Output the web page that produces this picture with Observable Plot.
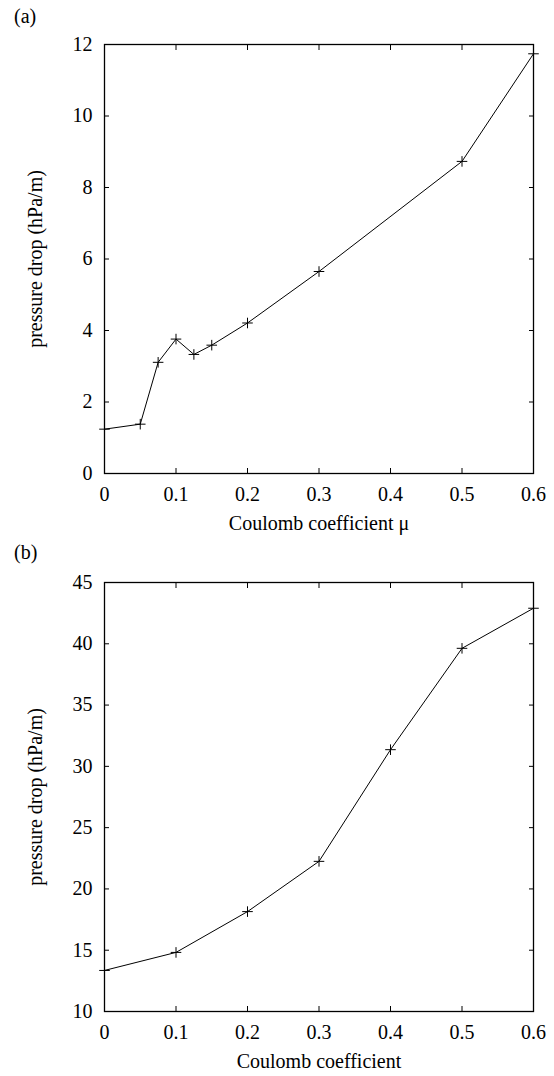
<!DOCTYPE html>
<html>
<head>
<meta charset="utf-8">
<script src="https://cdn.jsdelivr.net/npm/d3@7"></script>
<script src="https://cdn.jsdelivr.net/npm/@observablehq/plot@0.6"></script>
<style>
  html, body { margin: 0; padding: 0; background: white; }
  #root { position: relative; width: 554px; height: 1076px; font-family: "Liberation Serif", "Times New Roman", serif; }
  .tag { position: absolute; left: 14px; font-family: "Liberation Serif", "Times New Roman", serif; font-size: 20px; line-height: 20px; color: black; }
  .panel { position: absolute; left: 0; }
</style>
</head>
<body>
<div id="root">
  <div class="tag" style="top:6px">(a)</div>
  <div class="panel" id="pa" style="top:30px"></div>
  <div class="tag" style="top:542px">(b)</div>
  <div class="panel" id="pb" style="top:568px"></div>
</div>
<script>
// x ticks shared by both panels
const xTicks = [0, 0.1, 0.2, 0.3, 0.4, 0.5, 0.6];

// panel (a)
const muA = [0, 0.05, 0.075, 0.1, 0.125, 0.15, 0.2, 0.3, 0.5, 0.6];
const dropA = [1.24, 1.38, 3.11, 3.76, 3.33, 3.59, 4.21, 5.65, 8.73, 11.74];
const yTicksA = [0, 2, 4, 6, 8, 10, 12];

// panel (b)
const muB = [0, 0.1, 0.2, 0.3, 0.4, 0.5, 0.6];
const dropB = [13.35, 14.82, 18.15, 22.25, 31.36, 39.63, 42.9];
const yTicksB = [10, 15, 20, 25, 30, 35, 40, 45];

const yLabel = "pressure drop (hPa/m)";

function panel(mu, drop, yDomain, yTicks, xLabel) {
  const data = mu.map((m, i) => ({mu: m, drop: drop[i]}));
  const blank = () => "";
  return Plot.plot({
    width: 554,
    height: 508,
    marginLeft: 104,
    marginRight: 21,
    marginTop: 14,
    marginBottom: 65,
    style: {fontFamily: "'Liberation Serif', 'Times New Roman', serif", fontSize: "20px", color: "black", background: "white", overflow: "visible"},
    x: {domain: [0, 0.6]},
    y: {domain: yDomain},
    marks: [
      // inward ticks, all four sides
      Plot.axisX(xTicks, {anchor: "bottom", tickSize: -5, tickFormat: blank, label: null}),
      Plot.axisX(xTicks, {anchor: "top", tickSize: -5, tickFormat: blank, label: null}),
      Plot.axisY(yTicks, {anchor: "left", tickSize: -5, tickFormat: blank, label: null}),
      Plot.axisY(yTicks, {anchor: "right", tickSize: -5, tickFormat: blank, label: null}),
      // tick labels and axis titles
      Plot.axisX(xTicks, {anchor: "bottom", tickSize: 0, tickPadding: 13, tickFormat: d => String(d),
        label: xLabel, labelAnchor: "center", labelOffset: 56, labelArrow: "none", fontSize: 20}),
      Plot.axisY(yTicks, {anchor: "left", tickSize: 0, tickPadding: 12, tickFormat: d => String(d),
        label: yLabel, labelAnchor: "center", labelOffset: 77, labelArrow: "none", fontSize: 20}),
      Plot.frame({stroke: "black", strokeWidth: 1.3}),
      Plot.line(data, {x: "mu", y: "drop", stroke: "black", strokeWidth: 1}),
      Plot.dot(data, {x: "mu", y: "drop", symbol: "plus", r: 3.5, stroke: "black", strokeWidth: 1})
    ]
  });
}

document.getElementById("pa").appendChild(panel(muA, dropA, [0, 12], yTicksA, "Coulomb coefficient μ"));
document.getElementById("pb").appendChild(panel(muB, dropB, [10, 45], yTicksB, "Coulomb coefficient"));
</script>
</body>
</html>
